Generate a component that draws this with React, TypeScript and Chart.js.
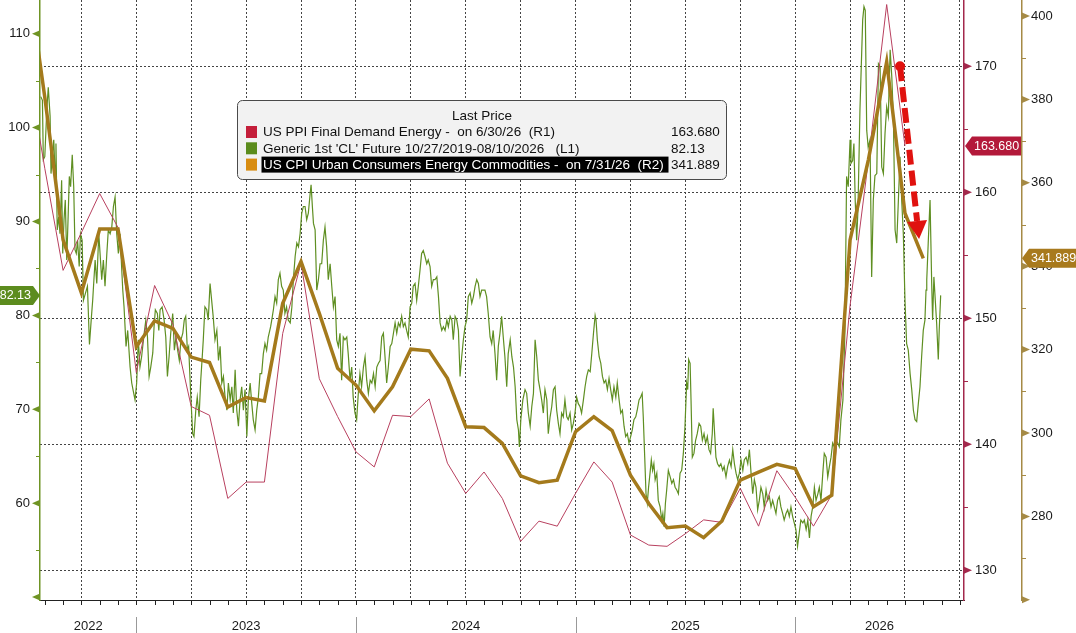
import React, { useEffect, useRef } from 'react';
import { Chart, registerables } from 'chart.js';

Chart.register(...registerables);

// x is counted in months from 1 Jan 2022, month-end prints sit on whole months
const yearLabels = ['2022', '2023', '2024', '2025', '2026'];
const yearStarts = [0, 12, 24, 36, 48, 60];
const quarterLines = [9, 12, 15, 18, 21, 24, 27, 30, 33, 36, 39, 42, 45, 48, 51, 54, 57];

const leftTicks = [50, 60, 70, 80, 90, 100, 110];
const leftMinor = [55, 65, 75, 85, 95, 105];
const r1Ticks = [130, 140, 150, 160, 170];
const r1Minor = [135, 145, 155, 165];
const r2Ticks = [260, 280, 300, 320, 340, 360, 380, 400];
const r2Minor = [270, 290, 310, 330, 350, 370, 390];

// US PPI Final Demand Energy (R1)
const ppiMonths = [6, 7, 8, 9, 10, 11, 12, 13, 14, 15, 16, 17, 18, 19, 20, 21, 22, 23, 24, 25, 26, 27, 28, 29, 30,
  31, 32, 33, 34, 35, 36, 37, 38, 39, 40, 41, 42, 43, 44, 45, 46, 47, 48, 49, 50, 51, 52, 53, 54];
const ppiValues = [170.5, 161.9, 153.8, 156.8, 159.9, 157.2, 145.7, 152.6, 149.5, 143.0, 142.3, 135.7, 137.0, 137.0,
  148.8, 154.4, 145.2, 142.2, 139.4, 138.2, 142.3, 142.2, 143.6, 138.5, 136.1, 137.8, 135.7, 132.3, 133.9, 133.5,
  136.1, 138.6, 137.0, 132.8, 132.0, 131.9, 132.9, 134.0, 133.8, 136.5, 133.5, 137.9, 135.8, 133.5, 136.0, 151.0,
  162.5, 174.9, 163.68];

// US CPI Urban Consumers Energy Commodities (R2)
const cpiMonths = [6, 7, 8, 9, 10, 11, 12, 13, 14, 15, 16, 17, 18, 19, 20, 21, 22, 23, 24, 25, 26, 27, 28, 29, 30,
  31, 32, 33, 34, 35, 36, 37, 38, 39, 40, 41, 42, 43, 44, 45, 46, 47, 48, 49, 50, 51, 52, 53, 54, 55];
const cpiValues = [412, 380.5, 346.3, 333.6, 348.9, 348.9, 320.7, 326.9, 325.1, 318.2, 316.9, 306.2, 308.5, 307.7,
  331.1, 341.1, 328.7, 315.5, 311.5, 305.3, 311.1, 320.1, 319.7, 313.1, 301.5, 301.3, 297.5, 289.7, 288.1, 288.7,
  300.3, 303.9, 300.6, 289.9, 283.1, 277.3, 277.7, 274.9, 278.9, 288.7, 290.6, 292.5, 291.5, 282.3, 285.1, 346.3,
  365.5, 389.0, 352.7, 341.889];

// Generic 1st 'CL' future (L1), [month, price]
const crudeFuture: [number, number][] = [
  [6.78, 103.3], [6.87, 102.9], [6.92, 96.6], [7.0, 96.9], [7.11, 101.9], [7.19, 104.3], [7.29, 101.2], [7.34, 95.1],
  [7.41, 96.9], [7.49, 98.7], [7.56, 95.1], [7.61, 98.3], [7.68, 89.1], [7.76, 90.5], [7.83, 88.7], [7.92, 94.4],
  [7.98, 86.6], [8.05, 90.2], [8.12, 92.3], [8.2, 85.9], [8.27, 90.2], [8.34, 94.8], [8.41, 93.7], [8.5, 97.1],
  [8.58, 93.7], [8.65, 87.0], [8.72, 86.6], [8.79, 88.0], [8.88, 85.2], [8.95, 88.7], [9.04, 88.0], [9.11, 81.6],
  [9.33, 83.1], [9.44, 76.9], [9.55, 79.9], [9.62, 81.7], [9.65, 82.7], [9.75, 85.9], [9.84, 83.4], [9.95, 88.7],
  [10.02, 86.6], [10.11, 83.8], [10.2, 85.9], [10.29, 83.1], [10.39, 86.6], [10.47, 89.1], [10.57, 88.7], [10.66, 89.4],
  [10.75, 91.6], [10.84, 92.6], [10.93, 88.7], [11.02, 86.6], [11.11, 88.7], [11.26, 82.7], [11.33, 80.9], [11.44, 76.7],
  [11.53, 78.4], [11.66, 74.5], [11.75, 72.8], [11.83, 72.0], [11.93, 71.0], [12.02, 72.8], [12.11, 77.4], [12.2, 74.5],
  [12.29, 75.6], [12.43, 78.1], [12.52, 79.5], [12.61, 77.7], [12.7, 73.5], [12.79, 74.5], [12.9, 76.0], [12.97, 78.8],
  [13.04, 80.6], [13.15, 80.2], [13.23, 78.4], [13.3, 80.6], [13.41, 80.9], [13.52, 79.5], [13.61, 77.7], [13.7, 73.5],
  [13.79, 75.6], [13.88, 78.1], [13.99, 80.2], [14.08, 76.3], [14.17, 77.7], [14.26, 76.3], [14.35, 75.2], [14.44, 77.4],
  [14.54, 78.1], [14.62, 79.5], [14.7, 79.9], [14.79, 76.3], [14.86, 76.7], [14.97, 71.7], [15.08, 67.4], [15.15, 67.1],
  [15.25, 69.9], [15.33, 71.3], [15.43, 69.2], [15.52, 73.1], [15.59, 75.2], [15.66, 77.4], [15.75, 80.9], [15.85, 80.6],
  [15.93, 79.5], [16.03, 83.4], [16.2, 79.9], [16.3, 77.4], [16.4, 78.4], [16.49, 75.2], [16.58, 76.7], [16.67, 72.8],
  [16.76, 73.5], [16.85, 71.3], [16.95, 69.9], [17.03, 72.8], [17.13, 71.0], [17.22, 72.4], [17.3, 69.6], [17.4, 74.2],
  [17.49, 69.9], [17.58, 68.2], [17.67, 71.0], [17.76, 72.4], [17.85, 69.9], [17.94, 72.1], [18.04, 67.1], [18.12, 71.0],
  [18.22, 72.8], [18.31, 70.6], [18.39, 68.9], [18.49, 67.8], [18.58, 69.9], [18.67, 71.3], [18.76, 73.8], [18.85, 73.8],
  [18.94, 75.9], [19.03, 77.0], [19.12, 76.3], [19.21, 77.7], [19.34, 78.8], [19.4, 79.5], [19.49, 80.6], [19.58, 82.0],
  [19.67, 81.3], [19.76, 83.8], [19.85, 84.5], [19.94, 83.1], [20.03, 82.7], [20.12, 80.2], [20.21, 80.9], [20.3, 79.5],
  [20.41, 79.2], [20.5, 80.9], [20.58, 83.8], [20.68, 86.3], [20.77, 87.7], [20.86, 87.3], [20.95, 88.7], [21.04, 90.9],
  [21.13, 91.6], [21.22, 91.6], [21.31, 90.2], [21.4, 90.9], [21.5, 93.0], [21.55, 93.9], [21.62, 91.6], [21.68, 89.8],
  [21.77, 89.1], [21.86, 82.7], [21.95, 83.8], [22.04, 85.5], [22.13, 85.5], [22.22, 88.0], [22.31, 89.4], [22.4, 87.3],
  [22.49, 83.8], [22.59, 85.5], [22.68, 83.1], [22.77, 80.9], [22.86, 82.0], [22.95, 77.4], [23.04, 76.7], [23.13, 78.1],
  [23.22, 73.1], [23.31, 77.7], [23.4, 77.4], [23.5, 77.7], [23.58, 75.9], [23.68, 73.1], [23.77, 74.5], [23.85, 71.3],
  [23.95, 69.6], [24.04, 68.9], [24.13, 71.7], [24.22, 73.8], [24.31, 72.4], [24.41, 74.5], [24.5, 75.6], [24.59, 73.1],
  [24.68, 71.7], [24.78, 73.1], [24.87, 72.8], [24.96, 73.8], [25.05, 72.4], [25.14, 74.5], [25.23, 74.9], [25.32, 75.2],
  [25.41, 77.7], [25.5, 78.1], [25.59, 75.6], [25.68, 72.8], [25.77, 74.5], [25.87, 76.7], [25.96, 77.0], [26.05, 78.1],
  [26.14, 79.2], [26.23, 78.1], [26.32, 79.2], [26.41, 78.8], [26.5, 79.9], [26.59, 78.8], [26.68, 79.2], [26.77, 78.4],
  [26.86, 77.7], [26.96, 80.9], [27.05, 81.3], [27.13, 83.1], [27.23, 83.4], [27.32, 81.6], [27.41, 83.1], [27.5, 84.8],
  [27.59, 86.6], [27.68, 86.9], [27.77, 86.3], [27.87, 85.5], [27.95, 85.9], [28.05, 85.2], [28.14, 83.1], [28.23, 83.8],
  [28.32, 83.8], [28.42, 84.1], [28.51, 82.0], [28.6, 79.2], [28.69, 78.4], [28.78, 78.8], [28.87, 78.4], [28.97, 79.5],
  [29.05, 78.8], [29.15, 79.9], [29.24, 79.5], [29.32, 77.4], [29.42, 79.9], [29.51, 79.5], [29.6, 78.4], [29.69, 73.5],
  [29.78, 75.6], [29.87, 77.4], [29.96, 78.8], [30.05, 79.5], [30.14, 82.0], [30.24, 82.4], [30.33, 81.3], [30.42, 82.0],
  [30.51, 83.1], [30.6, 83.8], [30.69, 83.4], [30.78, 82.0], [30.87, 82.7], [31.05, 82.7], [31.14, 82.0], [31.23, 80.2],
  [31.33, 77.7], [31.42, 77.0], [31.5, 78.4], [31.6, 75.9], [31.69, 73.1], [31.78, 76.7], [31.87, 78.1], [31.96, 79.9],
  [32.05, 77.7], [32.14, 75.6], [32.24, 72.4], [32.32, 75.9], [32.43, 77.4], [32.52, 75.6], [32.61, 74.5], [32.7, 72.4],
  [32.79, 68.9], [32.88, 67.8], [32.93, 66.0], [33.01, 68.9], [33.12, 71.0], [33.24, 72.1], [33.33, 71.7], [33.42, 69.6],
  [33.52, 68.2], [33.61, 70.3], [33.7, 71.7], [33.79, 77.4], [33.88, 75.6], [33.97, 73.1], [34.06, 72.1], [34.15, 71.0],
  [34.24, 69.6], [34.33, 72.1], [34.43, 71.0], [34.51, 67.4], [34.61, 69.2], [34.7, 70.3], [34.79, 72.1], [34.88, 72.4],
  [34.97, 69.9], [35.06, 68.5], [35.15, 67.4], [35.24, 69.6], [35.33, 69.2], [35.42, 71.0], [35.52, 69.2], [35.6, 68.9],
  [35.7, 69.6], [35.79, 67.8], [35.88, 68.5], [35.97, 69.6], [36.06, 71.3], [36.15, 70.6], [36.24, 70.3], [36.33, 69.6],
  [36.43, 71.0], [36.52, 72.4], [36.61, 73.5], [36.7, 74.2], [36.8, 74.0], [36.89, 76.0], [36.98, 78.1], [37.07, 80.0],
  [37.12, 79.5], [37.19, 77.4], [37.29, 75.6], [37.38, 74.9], [37.47, 73.5], [37.56, 72.8], [37.65, 73.1], [37.74, 72.1],
  [37.83, 73.3], [37.92, 72.1], [38.01, 71.0], [38.1, 72.4], [38.2, 71.3], [38.28, 72.8], [38.38, 71.0], [38.47, 69.6],
  [38.56, 69.9], [38.65, 68.2], [38.74, 67.1], [38.83, 67.4], [38.92, 66.4], [39.01, 67.1], [39.1, 67.8], [39.19, 68.9],
  [39.29, 69.2], [39.37, 69.9], [39.47, 71.0], [39.56, 71.3], [39.64, 71.7], [39.7, 69.2], [39.78, 64.9], [39.85, 61.0],
  [39.92, 60.0], [39.99, 61.7], [40.07, 63.2], [40.14, 64.6], [40.21, 63.5], [40.28, 64.2], [40.35, 62.5], [40.44, 63.2],
  [40.52, 60.3], [40.62, 59.6], [40.71, 58.2], [40.77, 58.9], [40.84, 57.5], [40.91, 60.0], [40.98, 61.4], [41.07, 63.5],
  [41.17, 62.8], [41.26, 62.1], [41.35, 62.5], [41.44, 61.7], [41.53, 61.4], [41.62, 61.0], [41.71, 63.2], [41.8, 63.5],
  [41.89, 65.3], [41.98, 68.2], [42.07, 72.8], [42.13, 72.1], [42.18, 75.3], [42.26, 74.9], [42.31, 71.0], [42.38, 64.9],
  [42.47, 65.3], [42.56, 66.7], [42.65, 67.4], [42.75, 68.5], [42.84, 68.2], [42.93, 66.7], [43.02, 67.4], [43.11, 66.4],
  [43.2, 67.1], [43.29, 65.7], [43.38, 65.3], [43.47, 67.4], [43.52, 70.1], [43.6, 67.4], [43.67, 64.9], [43.76, 64.2],
  [43.85, 63.9], [43.94, 64.2], [44.04, 63.5], [44.12, 63.9], [44.22, 62.8], [44.31, 63.9], [44.41, 64.6], [44.5, 63.9],
  [44.59, 65.7], [44.68, 64.2], [44.77, 63.2], [44.86, 62.5], [44.95, 63.2], [45.04, 64.6], [45.14, 63.5], [45.22, 64.6],
  [45.32, 64.9], [45.41, 64.2], [45.5, 65.7], [45.59, 63.2], [45.68, 61.0], [45.77, 62.5], [45.86, 61.7], [45.95, 59.3],
  [46.04, 60.3], [46.13, 61.7], [46.23, 61.0], [46.31, 59.6], [46.41, 61.4], [46.5, 60.3], [46.59, 60.7], [46.68, 59.6],
  [46.77, 60.3], [46.86, 59.6], [46.95, 58.9], [47.04, 60.3], [47.13, 60.7], [47.22, 59.6], [47.32, 58.9], [47.4, 58.2],
  [47.5, 58.9], [47.59, 59.3], [47.68, 58.6], [47.77, 59.6], [47.86, 58.6], [47.95, 57.9], [48.04, 57.2], [48.13, 55.4],
  [48.22, 56.8], [48.31, 58.2], [48.42, 57.9], [48.5, 58.2], [48.6, 57.2], [48.69, 58.2], [48.78, 56.3], [48.87, 58.6],
  [48.96, 59.6], [49.05, 61.7], [49.14, 60.3], [49.24, 61.0], [49.32, 61.7], [49.41, 60.3], [49.51, 63.2], [49.59, 65.3],
  [49.69, 64.9], [49.78, 62.8], [49.87, 63.9], [49.96, 64.9], [50.05, 66.4], [50.14, 66.0], [50.23, 66.7], [50.32, 66.4],
  [50.41, 66.0], [50.5, 68.9], [50.61, 71.0], [50.72, 78.4], [50.81, 94.8], [50.9, 93.7], [51.0, 98.7], [51.05, 96.2],
  [51.14, 96.5], [51.21, 98.3], [51.28, 92.3], [51.36, 88.0], [51.43, 91.2], [51.54, 101.9], [51.69, 111.5], [51.76, 112.9],
  [51.83, 112.5], [51.91, 99.7], [51.99, 97.9], [52.09, 98.7], [52.18, 84.1], [52.27, 92.3], [52.36, 94.9], [52.46, 95.1],
  [52.55, 106.8], [52.64, 106.5], [52.73, 95.8], [52.82, 95.1], [52.91, 99.4], [53.0, 102.2], [53.09, 101.2], [53.19, 108.3],
  [53.28, 105.4], [53.37, 100.8], [53.46, 89.1], [53.55, 87.7], [53.64, 92.3], [53.73, 96.9], [53.82, 92.3], [53.91, 88.7],
  [54.0, 81.6], [54.09, 77.0], [54.18, 76.3], [54.28, 73.8], [54.37, 72.1], [54.46, 69.9], [54.55, 68.9], [54.64, 68.7],
  [54.73, 70.6], [54.82, 72.4], [54.91, 75.6], [55.0, 78.4], [55.09, 79.5], [55.15, 82.7], [55.19, 83.8], [55.27, 87.7],
  [55.37, 92.3], [55.46, 83.4], [55.51, 79.5], [55.58, 84.1], [55.73, 79.2], [55.82, 75.3], [55.87, 78.4], [55.95, 82.13],
];

const seriesNames = [
  'US PPI Final Demand Energy -  on 6/30/26  (R1)',
  "Generic 1st 'CL' Future 10/27/2019-08/10/2026   (L1)",
  'US CPI Urban Consumers Energy Commodities -  on 7/31/26  (R2)',
];
const lastValues = ['163.680', '82.13', '341.889'];
const swatches = ['#c41e3a', '#5b8c1c', '#d88c10'];

// hand-drawn red arrow, [month, R1 value]
const arrowFrom = [53.73, 170.0];
const arrowTo = [54.77, 156.3];

const FONT = "'Liberation Sans', Arial, sans-serif";
const RED = '#a3294c';
const GREEN = '#6f9424';
const GOLD = '#a58a45';

const overlay = {
  id: 'overlay',
  afterDraw(chart: any) {
    const { ctx, chartArea, scales } = chart;
    const { x, yL, yR1, yR2 } = scales;
    const H = chart.height;
    ctx.save();

    // axis markers
    const marker = (px: number, py: number, dir: number, color: string) => {
      ctx.fillStyle = color;
      ctx.beginPath();
      ctx.moveTo(px, py - 3.5);
      ctx.lineTo(px + dir * 8, py);
      ctx.lineTo(px, py + 3.5);
      ctx.closePath();
      ctx.fill();
    };
    const minor = (px: number, py: number, dir: number, color: string) => {
      ctx.strokeStyle = color;
      ctx.lineWidth = 1;
      ctx.beginPath();
      ctx.moveTo(px, Math.round(py) + 0.5);
      ctx.lineTo(px + dir * 4, Math.round(py) + 0.5);
      ctx.stroke();
    };
    leftTicks.forEach(v => marker(yL.right, yL.getPixelForValue(v), -1, GREEN));
    leftMinor.forEach(v => minor(yL.right, yL.getPixelForValue(v), -1, GREEN));
    r1Ticks.forEach(v => marker(yR1.left, yR1.getPixelForValue(v), 1, RED));
    r1Minor.forEach(v => minor(yR1.left, yR1.getPixelForValue(v), 1, RED));
    r2Ticks.forEach(v => marker(yR2.left, yR2.getPixelForValue(v), 1, GOLD));
    r2Minor.forEach(v => minor(yR2.left, yR2.getPixelForValue(v), 1, GOLD));

    // month ticks, year separators and year labels
    ctx.strokeStyle = '#222';
    ctx.lineWidth = 1;
    for (let m = Math.ceil(x.min); m <= x.max; m++) {
      const px = Math.round(x.getPixelForValue(m)) + 0.5;
      ctx.beginPath();
      ctx.moveTo(px, chartArea.bottom);
      ctx.lineTo(px, chartArea.bottom + 5);
      ctx.stroke();
    }
    ctx.strokeStyle = '#999';
    yearStarts.forEach(s => {
      if (s <= x.min || s >= x.max) return;
      const px = Math.round(x.getPixelForValue(s)) + 0.5;
      ctx.beginPath();
      ctx.moveTo(px, chartArea.bottom + 17);
      ctx.lineTo(px, H);
      ctx.stroke();
    });
    ctx.fillStyle = '#1a1a1a';
    ctx.font = `13px ${FONT}`;
    ctx.textAlign = 'center';
    ctx.textBaseline = 'middle';
    yearLabels.forEach((label, i) => {
      const a = x.getPixelForValue(Math.max(yearStarts[i], x.min));
      const b = x.getPixelForValue(Math.min(yearStarts[i + 1], x.max));
      ctx.fillText(label, (a + b) / 2, chartArea.bottom + 26);
    });

    // last value tags
    const tag = (text: string, tipX: number, y: number, farX: number, color: string, pointLeft: boolean) => {
      const h = 19;
      const notch = 7;
      const d = pointLeft ? 1 : -1;
      ctx.fillStyle = color;
      ctx.beginPath();
      ctx.moveTo(tipX, y);
      ctx.lineTo(tipX + d * notch, y - h / 2);
      ctx.lineTo(farX, y - h / 2);
      ctx.lineTo(farX, y + h / 2);
      ctx.lineTo(tipX + d * notch, y + h / 2);
      ctx.closePath();
      ctx.fill();
      ctx.fillStyle = '#ffffff';
      ctx.font = `12.5px ${FONT}`;
      ctx.textBaseline = 'middle';
      ctx.textAlign = pointLeft ? 'left' : 'right';
      ctx.fillText(text, tipX + d * 9, y + 0.5);
    };
    tag(lastValues[0], yR1.left + 1, yR1.getPixelForValue(ppiValues[ppiValues.length - 1]), yR1.right - 1, '#b3193a', true);
    tag(lastValues[2], yR2.left, yR2.getPixelForValue(cpiValues[cpiValues.length - 1]), chart.width, '#a87a1d', true);
    tag(lastValues[1], yL.right, yL.getPixelForValue(crudeFuture[crudeFuture.length - 1][1]), 0, '#5c8c1e', false);

    // legend box
    const lx = 237.5, ly = 100.5, lw = 489, lh = 79;
    ctx.fillStyle = '#f2f2f2';
    ctx.strokeStyle = '#4a4a4a';
    ctx.lineWidth = 1;
    ctx.beginPath();
    ctx.roundRect(lx, ly, lw, lh, 5);
    ctx.fill();
    ctx.stroke();
    ctx.font = `13.5px ${FONT}`;
    ctx.textBaseline = 'middle';
    ctx.textAlign = 'center';
    ctx.fillStyle = '#111';
    ctx.fillText('Last Price', lx + lw / 2, 116);
    seriesNames.forEach((name, i) => {
      const ry = 132 + i * 16.3;
      ctx.fillStyle = swatches[i];
      ctx.fillRect(246, ry - 6, 11, 12);
      if (i === 2) {
        ctx.fillStyle = '#000';
        ctx.fillRect(261.5, ry - 8, 407, 16);
      }
      ctx.textAlign = 'left';
      ctx.fillStyle = i === 2 ? '#fff' : '#111';
      ctx.fillText(name, 263, ry + 0.5);
      ctx.fillStyle = '#111';
      ctx.fillText(lastValues[i], 671, ry + 0.5);
    });

    // red dashed arrow
    const sx = x.getPixelForValue(arrowFrom[0]);
    const sy = yR1.getPixelForValue(arrowFrom[1]);
    const tx = x.getPixelForValue(arrowTo[0]);
    const ty = yR1.getPixelForValue(arrowTo[1]);
    const ang = Math.atan2(ty - sy, tx - sx);
    const headLen = 18, headHalf = 10;
    const bx = tx - Math.cos(ang) * headLen;
    const by = ty - Math.sin(ang) * headLen;
    ctx.strokeStyle = '#e0120f';
    ctx.fillStyle = '#e0120f';
    ctx.lineWidth = 6;
    ctx.setLineDash([15, 6]);
    ctx.beginPath();
    ctx.moveTo(sx, sy);
    ctx.lineTo(bx, by);
    ctx.stroke();
    ctx.setLineDash([]);
    ctx.beginPath();
    ctx.arc(sx, sy, 5, 0, Math.PI * 2);
    ctx.fill();
    ctx.beginPath();
    ctx.moveTo(tx, ty);
    ctx.lineTo(bx + Math.sin(ang) * headHalf, by - Math.cos(ang) * headHalf);
    ctx.lineTo(bx - Math.sin(ang) * headHalf, by + Math.cos(ang) * headHalf);
    ctx.closePath();
    ctx.fill();

    ctx.restore();
  },
};

const tickFont = { family: FONT, size: 13 };

// pin every axis to the reference's measured band and drop label overhang padding
const fitVertical = (w: number) => (s: any) => {
  s.width = w;
  s.paddingTop = 0;
  s.paddingBottom = 0;
};

const App: React.FC = () => {
  const canvasRef = useRef<HTMLCanvasElement>(null);

  useEffect(() => {
    if (!canvasRef.current) return;
    const chart = new Chart(canvasRef.current, {
      type: 'line',
      data: {
        datasets: [
          {
            label: seriesNames[2],
            data: cpiMonths.map((m, i) => ({ x: m, y: cpiValues[i] })),
            yAxisID: 'yR2',
            borderColor: '#a47a1c',
            borderWidth: 3.5,
            pointRadius: 0,
            order: 0,
            clip: 0,
          },
          {
            label: seriesNames[0],
            data: ppiMonths.map((m, i) => ({ x: m, y: ppiValues[i] })),
            yAxisID: 'yR1',
            borderColor: '#b8405f',
            borderWidth: 1,
            pointRadius: 0,
            order: 1,
            clip: 0,
          },
          {
            label: seriesNames[1],
            data: crudeFuture.map(([m, v]) => ({ x: m, y: v })),
            yAxisID: 'yL',
            borderColor: '#5f8f22',
            borderWidth: 1.2,
            pointRadius: 0,
            order: 2,
            clip: 0,
          },
        ],
      },
      options: {
        animation: false,
        responsive: false,
        events: [],
        layout: { padding: 0, autoPadding: false },
        plugins: { legend: { display: false }, tooltip: { enabled: false } },
        scales: {
          x: {
            type: 'linear',
            min: 6.738,
            max: 57.225,
            afterBuildTicks: (s: any) => { s.ticks = quarterLines.map(v => ({ value: v })); },
            ticks: { display: false },
            grid: { color: '#444', lineWidth: 1, drawTicks: false },
            border: { display: true, color: '#222', width: 1, dash: [2, 2] },
            afterFit: (s: any) => {
              s.height = 33;
              s.paddingLeft = 0;
              s.paddingRight = 0;
            },
          },
          yL: {
            type: 'linear',
            position: 'left',
            min: 49.69,
            max: 113.59,
            afterBuildTicks: (s: any) => { s.ticks = leftTicks.map(v => ({ value: v })); },
            ticks: { padding: 10, color: '#1a1a1a', font: tickFont, callback: (v: any) => (v === 50 ? '' : String(v)) },
            grid: { display: false, drawTicks: false },
            border: { display: true, color: GREEN, width: 1.5 },
            afterFit: fitVertical(40),
          },
          yR1: {
            type: 'linear',
            position: 'right',
            weight: 0,
            min: 127.64,
            max: 175.26,
            afterBuildTicks: (s: any) => { s.ticks = r1Ticks.map(v => ({ value: v })); },
            ticks: { padding: 11, color: '#1a1a1a', font: tickFont },
            grid: { display: true, drawOnChartArea: true, drawTicks: false, color: '#444', lineWidth: 1 },
            border: { display: true, color: RED, width: 1.5, dash: [2, 2] },
            afterFit: fitVertical(58),
          },
          yR2: {
            type: 'linear',
            position: 'right',
            weight: 1,
            min: 259.95,
            max: 403.84,
            afterBuildTicks: (s: any) => { s.ticks = r2Ticks.map(v => ({ value: v })); },
            ticks: { padding: 9, color: '#1a1a1a', font: tickFont, callback: (v: any) => (v === 260 ? '' : String(v)) },
            grid: { display: false, drawTicks: false },
            border: { display: true, color: GOLD, width: 1.5 },
            afterFit: fitVertical(54),
          },
        },
      } as any,
      plugins: [overlay],
    });
    return () => chart.destroy();
  }, []);

  return (
    <div style={{ position: 'absolute', left: 0, top: 0, width: 1076, height: 633, background: '#ffffff' }}>
      <canvas ref={canvasRef} width={1076} height={633} style={{ display: 'block', width: 1076, height: 633 }} />
    </div>
  );
};

export default App;
